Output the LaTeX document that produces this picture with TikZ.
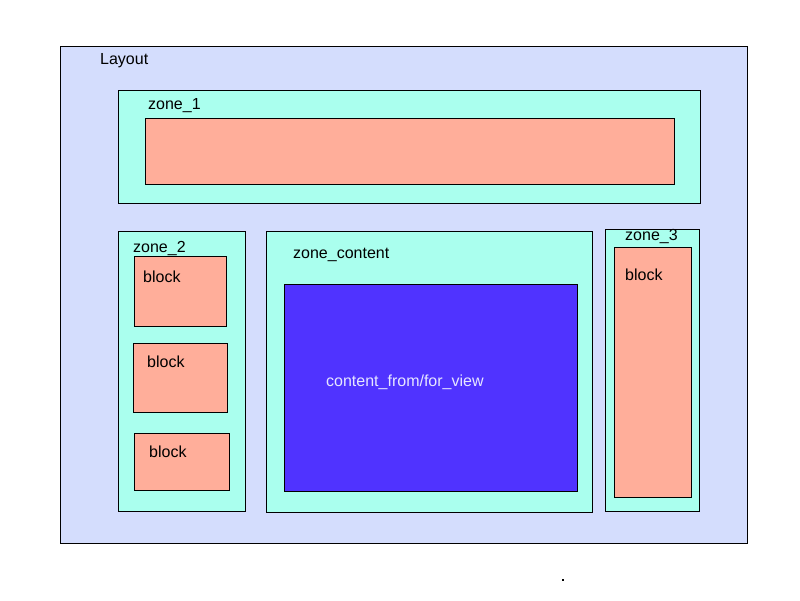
\documentclass[tikz,border=0pt]{standalone}
\usepackage{fontspec}
\setmainfont{Liberation Sans}
\usetikzlibrary{positioning}

\definecolor{layoutbg}{HTML}{D4DDFD}
\definecolor{zonebg}{HTML}{AAFFEE}
\definecolor{blockbg}{HTML}{FFAE9A}
\definecolor{viewbg}{HTML}{5033FF}
\definecolor{viewtxt}{HTML}{E6E6FF}

\tikzset{
  box/.style={draw, line width=0.8pt, rectangle, anchor=north west, inner sep=0pt},
  layoutbox/.style={box, fill=layoutbg},
  zonebox/.style={box, fill=zonebg},
  blockbox/.style={box, fill=blockbg},
  viewbox/.style={box, fill=viewbg},
  lbl/.style={anchor=west, inner sep=0pt, font=\fontsize{16}{18}\selectfont}
}

\begin{document}
\begin{tikzpicture}[x=1pt, y=-1pt]
\useasboundingbox (0,0) rectangle (800,600);
\node[layoutbox, minimum width=687pt, minimum height=497pt] (layout) at (60,46) {};
\node[lbl] (layoutlbl) at (100,61) {Layout};
%% zone_1
\node[zonebox, minimum width=582pt, minimum height=113pt] (zone1) at (118,90) {};
\node[lbl] (zone1lbl) at (148,106) {zone\_1};
\node[blockbox, minimum width=529pt, minimum height=66pt] (zone1blk) at (145,118) {};
%% zone_2
\node[zonebox, minimum width=127pt, minimum height=280pt] (zone2) at (118,231) {};
\node[lbl] (zone2lbl) at (133,248) {zone\_2};
\node[blockbox, minimum width=92pt, minimum height=70pt] (blka) at (134,256) {};
\node[lbl] (blkalbl) at (143,277) {block};
\node[blockbox, minimum width=94pt, minimum height=69pt] (blkb) at (133,343) {};
\node[lbl] (blkblbl) at (147,362) {block};
\node[blockbox, minimum width=95pt, minimum height=57pt] (blkc) at (134,433) {};
\node[lbl] (blkclbl) at (149,452) {block};
%% zone_content
\node[zonebox, minimum width=326pt, minimum height=281pt] (zonec) at (266,231) {};
\node[lbl] (zoneclbl) at (293,255) {zone\_content};
\node[viewbox, minimum width=293pt, minimum height=207pt] (view) at (284,284) {};
\node[lbl, text=viewtxt] (viewlbl) at (326,382) {content\_from/for\_view};
%% zone_3
\node[zonebox, minimum width=94pt, minimum height=282pt] (zone3) at (605,229) {};
\node[lbl] (zone3lbl) at (625,236) {zone\_3};
\node[blockbox, minimum width=77pt, minimum height=250pt] (blkd) at (614,247) {};
\node[lbl] (blkdlbl) at (625,275) {block};
\node[fill=black, inner sep=0pt, minimum size=2pt] (dot) at (563,580) {};
\end{tikzpicture}
\end{document}
